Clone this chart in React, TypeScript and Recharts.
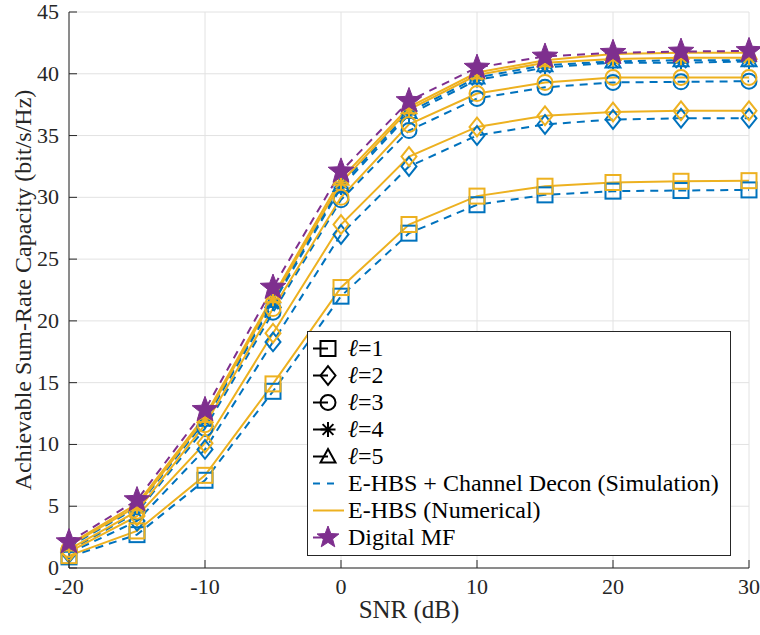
import React from 'react';
import { LineChart, Line, XAxis, YAxis, CartesianGrid, Legend } from 'recharts';

const SNR = [-20, -15, -10, -5, 0, 5, 10, 15, 20, 25, 30];
const X_TICKS = [-20, -10, 0, 10, 20, 30];
const Y_TICKS = [0, 5, 10, 15, 20, 25, 30, 35, 40, 45];

const DIGITAL_MF = [2.1, 5.5, 12.8, 22.7, 32.1, 37.8, 40.5, 41.4, 41.7, 41.8, 41.85];

const NUM_L1 = [1.0, 3.0, 7.5, 14.9, 22.7, 27.8, 30.1, 30.9, 31.2, 31.3, 31.35];
const NUM_L2 = [1.3, 4.2, 10.1, 19.0, 27.8, 33.3, 35.7, 36.6, 36.9, 37.0, 37.0];
const NUM_L3 = [1.5, 4.6, 11.6, 21.0, 30.0, 35.9, 38.4, 39.3, 39.7, 39.7, 39.7];
const NUM_L4 = [1.8, 5.0, 12.1, 21.8, 31.2, 37.1, 39.9, 40.9, 41.2, 41.3, 41.3];
const NUM_L5 = [1.9, 5.2, 12.3, 22.0, 31.5, 37.3, 40.1, 41.1, 41.6, 41.7, 41.7];

const SIM_L1 = [0.9, 2.7, 7.1, 14.3, 22.0, 27.1, 29.4, 30.2, 30.5, 30.55, 30.6];
const SIM_L2 = [1.2, 3.8, 9.6, 18.3, 27.0, 32.5, 35.0, 35.9, 36.3, 36.4, 36.4];
const SIM_L3 = [1.4, 4.5, 11.3, 20.7, 29.8, 35.4, 38.0, 38.9, 39.3, 39.35, 39.4];
const SIM_L4 = [1.7, 4.9, 11.9, 21.4, 30.8, 36.7, 39.5, 40.5, 40.9, 40.9, 41.0];
const SIM_L5 = [1.8, 5.0, 12.0, 21.6, 31.0, 36.9, 39.7, 40.7, 41.0, 41.1, 41.1];

const ELL_LABELS = ['1', '2', '3', '4', '5'];
const SIM_LABEL = 'E-HBS + Channel Decon (Simulation)';
const NUM_LABEL = 'E-HBS (Numerical)';
const MF_LABEL = 'Digital MF';
const X_LABEL = 'SNR (dB)';
const Y_LABEL = 'Achievable Sum-Rate Capacity (bit/s/Hz)';

const SHAPES = ['square', 'diamond', 'circle', 'asterisk', 'triangle'];
const NUMS = [NUM_L1, NUM_L2, NUM_L3, NUM_L4, NUM_L5];
const SIMS = [SIM_L1, SIM_L2, SIM_L3, SIM_L4, SIM_L5];

const BLUE = '#0072BD';
const YELLOW = '#EDB120';
const PURPLE = '#7E2F8E';
const AXIS = '#262626';
const FONT = "'Liberation Serif', 'Times New Roman', serif";

const data = SNR.map((snr, i) => {
  const row: Record<string, number> = { snr, mf: DIGITAL_MF[i] };
  NUMS.forEach((arr, k) => (row[`n${k + 1}`] = arr[i]));
  SIMS.forEach((arr, k) => (row[`s${k + 1}`] = arr[i]));
  return row;
});

function Marker({ cx, cy, shape, color, size = 15, sw = 2 }: any) {
  if (cx == null || cy == null) return null;
  const r = size / 2;
  const common = { fill: 'none', stroke: color, strokeWidth: sw, strokeDasharray: 'none' } as any;
  switch (shape) {
    case 'square':
      return <rect x={cx - r} y={cy - r} width={size} height={size} {...common} />;
    case 'diamond': {
      const h = r * 1.25;
      return <polygon points={`${cx},${cy - h} ${cx + r},${cy} ${cx},${cy + h} ${cx - r},${cy}`} {...common} />;
    }
    case 'circle':
      return <circle cx={cx} cy={cy} r={r} {...common} />;
    case 'asterisk': {
      const d = r * 0.72;
      return (
        <path
          d={`M${cx},${cy - r}L${cx},${cy + r}M${cx - r},${cy}L${cx + r},${cy}M${cx - d},${cy - d}L${cx + d},${cy + d}M${cx - d},${cy + d}L${cx + d},${cy - d}`}
          {...common}
        />
      );
    }
    case 'triangle':
      return <polygon points={`${cx},${cy - r} ${cx + r},${cy + r * 0.8} ${cx - r},${cy + r * 0.8}`} {...common} />;
    case 'star': {
      const R = size / 2;
      const ri = R * 0.42;
      const pts: string[] = [];
      for (let k = 0; k < 10; k++) {
        const rad = k % 2 === 0 ? R : ri;
        const a = -Math.PI / 2 + (k * Math.PI) / 5;
        pts.push(`${cx + rad * Math.cos(a)},${cy + rad * Math.sin(a)}`);
      }
      return <polygon points={pts.join(' ')} fill={color} stroke={color} strokeWidth={1} />;
    }
    default:
      return null;
  }
}

const makeDot = (shape: string, color: string, size?: number) => (p: any) => (
  <Marker key={`d-${shape}-${color}-${p.index}`} cx={p.cx} cy={p.cy} shape={shape} color={color} size={size} />
);

const TM = 10;
const TL = 8;

const textStyle = { fontFamily: FONT, fontSize: 22, fill: AXIS } as any;

const BottomTick = ({ x, y, payload }: any) => (
  <g>
    <line x1={x} x2={x} y1={y - TM} y2={y - TM - TL} stroke={AXIS} strokeWidth={1} />
    <text x={x} y={y} dy="0.74em" textAnchor="middle" style={textStyle}>
      {payload.value}
    </text>
  </g>
);
const LeftTick = ({ x, y, payload }: any) => (
  <g>
    <line x1={x + TM} x2={x + TM + TL} y1={y} y2={y} stroke={AXIS} strokeWidth={1} />
    <text x={x} y={y} dy="0.32em" textAnchor="end" style={textStyle}>
      {payload.value}
    </text>
  </g>
);
const TopTick = ({ x, y }: any) => <line x1={x} x2={x} y1={y} y2={y + TL} stroke={AXIS} strokeWidth={1} />;
const RightTick = ({ x, y }: any) => <line x1={x} x2={x - TL} y1={y} y2={y} stroke={AXIS} strokeWidth={1} />;

const YLabel = ({ viewBox }: any) => {
  const cx = viewBox.x + 23;
  const cy = viewBox.y + viewBox.height / 2;
  return (
    <text x={cx} y={cy} transform={`rotate(-90, ${cx}, ${cy})`} textAnchor="middle" dy="0.35em" style={{ ...textStyle, fontSize: 24 }}>
      {Y_LABEL}
    </text>
  );
};
const XLabel = ({ viewBox }: any) => {
  const cx = viewBox.x + viewBox.width / 2;
  const y = viewBox.y + viewBox.height - 17;
  return (
    <text x={cx} y={y} textAnchor="middle" style={{ ...textStyle, fontSize: 25 }}>
      {X_LABEL}
    </text>
  );
};

const LegendRow = ({ icon, label }: any) => (
  <div style={{ display: 'flex', alignItems: 'center', height: 27 }}>
    <svg width={36} height={27} style={{ flex: 'none' }}>
      {icon}
    </svg>
    <span style={{ whiteSpace: 'nowrap' }}>{label}</span>
  </div>
);

const LegendBox = () => (
  <div
    style={{
      boxSizing: 'border-box',
      width: 424,
      height: 225,
      border: `1px solid ${AXIS}`,
      background: '#fff',
      padding: '3px 0 0 4px',
      fontFamily: FONT,
      fontSize: 24,
      color: '#000',
      lineHeight: '27px',
    }}
  >
    {SHAPES.map((s, k) => (
      <LegendRow
        key={s}
        icon={
          <g>
            <line x1={1} x2={16} y1={13.5} y2={13.5} stroke="#000" strokeWidth={2} />
            <Marker cx={16} cy={13.5} shape={s} color="#000" size={15} />
          </g>
        }
        label={
          <span>
            <i>ℓ</i>={ELL_LABELS[k]}
          </span>
        }
      />
    ))}
    <LegendRow icon={<line x1={1} x2={28} y1={13.5} y2={13.5} stroke={BLUE} strokeWidth={2} strokeDasharray="7 7" />} label={SIM_LABEL} />
    <LegendRow icon={<line x1={1} x2={32} y1={13.5} y2={13.5} stroke={YELLOW} strokeWidth={2} />} label={NUM_LABEL} />
    <LegendRow
      icon={
        <g>
          <line x1={1} x2={16} y1={13.5} y2={13.5} stroke={PURPLE} strokeWidth={2} />
          <Marker cx={16} cy={13.5} shape="star" color={PURPLE} size={23} />
        </g>
      }
      label={MF_LABEL}
    />
  </div>
);

export default function App() {
  return (
    <div style={{ position: 'absolute', left: 0, top: 0, width: 760, height: 635, background: '#fff', fontFamily: FONT }}>
      <LineChart width={760} height={635} data={data} margin={{ top: 12, right: 11, bottom: 0, left: 0 }}>
        <CartesianGrid stroke="#e2e2e2" strokeWidth={1} horizontalValues={Y_TICKS} verticalValues={X_TICKS} />
        <XAxis
          dataKey="snr"
          type="number"
          domain={[-20, 30]}
          ticks={X_TICKS}
          height={67}
          tickSize={0}
          tickMargin={TM}
          tickLine={false}
          axisLine={{ stroke: AXIS, strokeWidth: 1 }}
          tick={<BottomTick />}
          interval={0}
          label={<XLabel />}
        />
        <XAxis
          xAxisId="top"
          orientation="top"
          dataKey="snr"
          type="number"
          domain={[-20, 30]}
          ticks={X_TICKS}
          height={0}
          tickSize={0}
          tickMargin={0}
          tickLine={false}
          axisLine={{ stroke: AXIS, strokeWidth: 1 }}
          tick={<TopTick />}
          interval={0}
        />
        <YAxis
          type="number"
          domain={[0, 45]}
          ticks={Y_TICKS}
          width={69}
          tickSize={0}
          tickMargin={TM}
          tickLine={false}
          axisLine={{ stroke: AXIS, strokeWidth: 1 }}
          tick={<LeftTick />}
          interval={0}
          label={<YLabel />}
        />
        <YAxis
          yAxisId="right"
          orientation="right"
          type="number"
          domain={[0, 45]}
          ticks={Y_TICKS}
          width={0}
          tickSize={0}
          tickMargin={0}
          tickLine={false}
          axisLine={{ stroke: AXIS, strokeWidth: 1 }}
          tick={<RightTick />}
          interval={0}
        />
        {SHAPES.map((s, k) => (
          <Line
            key={`s${k}`}
            dataKey={`s${k + 1}`}
            stroke={BLUE}
            strokeWidth={2}
            strokeDasharray="8 6"
            dot={makeDot(s, BLUE)}
            activeDot={false}
            isAnimationActive={false}
            legendType="none"
          />
        ))}
        {SHAPES.map((s, k) => (
          <Line
            key={`n${k}`}
            dataKey={`n${k + 1}`}
            stroke={YELLOW}
            strokeWidth={2}
            dot={makeDot(s, YELLOW)}
            activeDot={false}
            isAnimationActive={false}
            legendType="none"
          />
        ))}
        <Line
          dataKey="mf"
          stroke={PURPLE}
          strokeWidth={2}
          strokeDasharray="8 6"
          dot={makeDot('star', PURPLE, 27)}
          activeDot={false}
          isAnimationActive={false}
          legendType="none"
        />
        <Legend
          layout="vertical"
          align="center"
          verticalAlign="middle"
          wrapperStyle={{ left: 307, top: 331, width: 424, height: 225 }}
          content={() => <LegendBox />}
        />
      </LineChart>
    </div>
  );
}
